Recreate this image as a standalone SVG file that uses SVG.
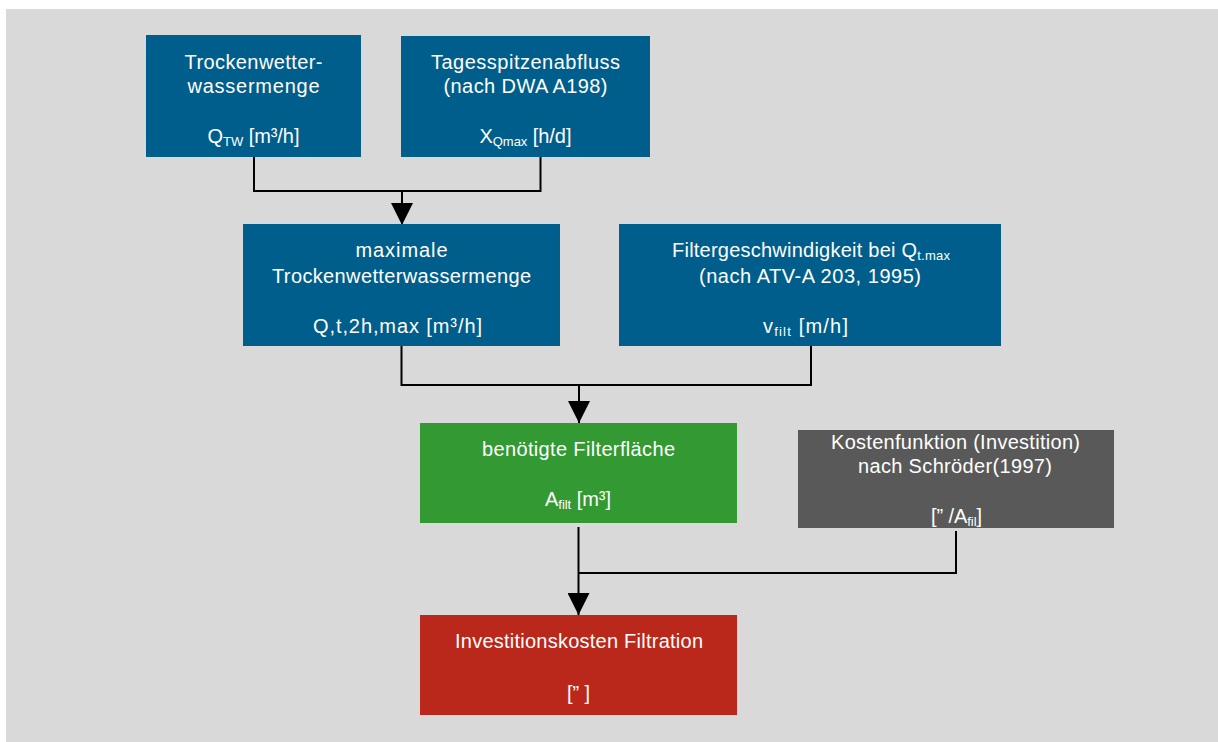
<svg xmlns="http://www.w3.org/2000/svg" width="1218" height="742" viewBox="0 0 1218 742">
<style>
.bg{fill:#D9D9D9}
.blue{fill:#005E8C}
.green{fill:#339933}
.gray{fill:#595959}
.red{fill:#B9281B}
text{font-family:"Liberation Sans",Arial,sans-serif;font-size:20px;fill:#FFFFFF;text-anchor:middle}
.sub{font-size:13px}
.conn{fill:none;stroke:#000000;stroke-width:2}
</style>
<defs>
<marker id="arrow" viewBox="0 0 22 22" refX="22" refY="11" markerWidth="22" markerHeight="22" markerUnits="userSpaceOnUse" orient="auto">
<path d="M0,0 L22,11 L0,22 Z" fill="#000000"/>
</marker>
</defs>
<rect class="bg" x="6" y="9" width="1212" height="733"/>
<g id="connectors">
<path class="conn" d="M254,157 V191 H540.5 V157"/>
<path class="conn" d="M402,191 V225" marker-end="url(#arrow)"/>
<path class="conn" d="M401.5,346 V385 H811 V346"/>
<path class="conn" d="M579,385 V423" marker-end="url(#arrow)"/>
<path class="conn" d="M578.5,527 V615" marker-end="url(#arrow)"/>
<path class="conn" d="M578.5,573 H956 V531"/>
</g>
<g id="n1">
<rect class="blue" x="146" y="35" width="215" height="122"/>
<text x="253.5" y="69" textLength="138">Trockenwetter-</text>
<text x="253.5" y="93" textLength="132">wassermenge</text>
<text x="253.5" y="143" textLength="92">Q<tspan class="sub" dy="3">TW</tspan><tspan dy="-3"> [m³/h]</tspan></text>
</g>
<g id="n2">
<rect class="blue" x="401" y="36" width="249" height="121"/>
<text x="525.5" y="69" textLength="189">Tagesspitzenabfluss</text>
<text x="525.5" y="93" textLength="164">(nach DWA A198)</text>
<text x="525.5" y="143" textLength="92">X<tspan class="sub" dy="3">Qmax</tspan><tspan dy="-3"> [h/d]</tspan></text>
</g>
<g id="n3">
<rect class="blue" x="243" y="224" width="317" height="122"/>
<text x="401.5" y="257" textLength="92">maximale</text>
<text x="401.5" y="283" textLength="259">Trockenwetterwassermenge</text>
<text x="397.5" y="333" textLength="169">Q,t,2h,max [m³/h]</text>
</g>
<g id="n4">
<rect class="blue" x="619" y="224" width="382" height="122"/>
<text x="811" y="257" textLength="278">Filtergeschwindigkeit bei Q<tspan class="sub" dy="3">t.max</tspan></text>
<text x="810" y="283" textLength="222">(nach ATV-A 203, 1995)</text>
<text x="805.5" y="333" textLength="85">v<tspan class="sub" dy="3">filt</tspan><tspan dy="-3"> [m/h]</tspan></text>
</g>
<g id="n5">
<rect class="green" x="420" y="423" width="317" height="100"/>
<text x="578.5" y="456" textLength="193">benötigte Filterfläche</text>
<text x="578" y="506" textLength="66">A<tspan class="sub" dy="3">filt</tspan><tspan dy="-3"> [m³]</tspan></text>
</g>
<g id="n6">
<rect class="gray" x="798" y="430" width="316" height="98"/>
<text x="955.5" y="449" textLength="249">Kostenfunktion (Investition)</text>
<text x="955" y="473" textLength="194">nach Schröder(1997)</text>
<text x="956.5" y="523" textLength="51">[” /A<tspan class="sub" dy="3">fil</tspan><tspan dy="-3">]</tspan></text>
</g>
<g id="n7">
<rect class="red" x="420" y="615" width="317" height="100"/>
<text x="579" y="648" textLength="248">Investitionskosten Filtration</text>
<text x="578.5" y="700" textLength="23">[” ]</text>
</g>
</svg>
